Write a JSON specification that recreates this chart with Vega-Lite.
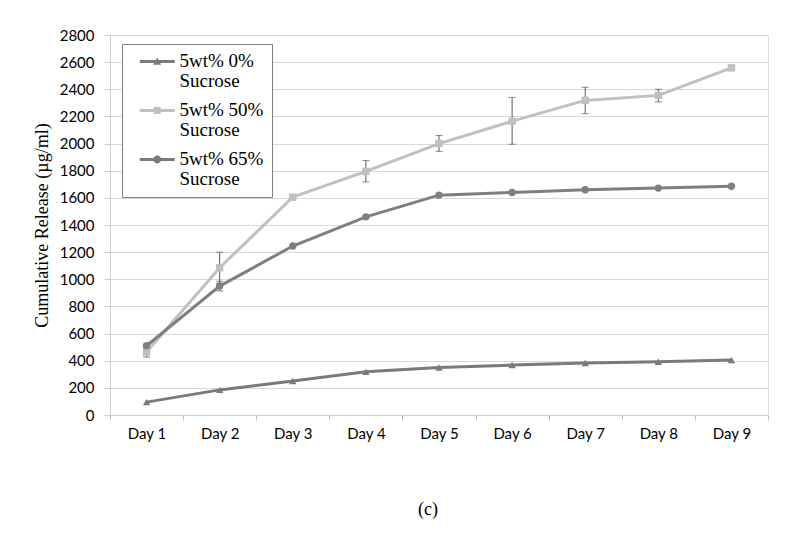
{
  "$schema": "https://vega.github.io/schema/vega-lite/v6.json",
  "autosize": {"type": "none"},
  "width": 658,
  "height": 380,
  "padding": {"left": 110, "top": 35, "right": 32, "bottom": 126},
  "background": "white",
  "title": {
    "text": "(c)",
    "orient": "bottom",
    "offset": 60,
    "dx": -11,
    "font": "Liberation Serif",
    "fontSize": 18,
    "fontWeight": "normal",
    "color": "#000000"
  },
  "data": {
    "values": [
      {"series": "5wt% 0% Sucrose", "day": "Day 1", "value": 95},
      {"series": "5wt% 0% Sucrose", "day": "Day 2", "value": 185},
      {"series": "5wt% 0% Sucrose", "day": "Day 3", "value": 250},
      {"series": "5wt% 0% Sucrose", "day": "Day 4", "value": 318},
      {"series": "5wt% 0% Sucrose", "day": "Day 5", "value": 350},
      {"series": "5wt% 0% Sucrose", "day": "Day 6", "value": 368},
      {"series": "5wt% 0% Sucrose", "day": "Day 7", "value": 383},
      {"series": "5wt% 0% Sucrose", "day": "Day 8", "value": 392},
      {"series": "5wt% 0% Sucrose", "day": "Day 9", "value": 405},
      {"series": "5wt% 50% Sucrose", "day": "Day 1", "value": 464, "lo": 427, "hi": 500},
      {"series": "5wt% 50% Sucrose", "day": "Day 2", "value": 1085, "lo": 970, "hi": 1200},
      {"series": "5wt% 50% Sucrose", "day": "Day 3", "value": 1605},
      {"series": "5wt% 50% Sucrose", "day": "Day 4", "value": 1795, "lo": 1718, "hi": 1875},
      {"series": "5wt% 50% Sucrose", "day": "Day 5", "value": 2000, "lo": 1943, "hi": 2060},
      {"series": "5wt% 50% Sucrose", "day": "Day 6", "value": 2165, "lo": 1995, "hi": 2340},
      {"series": "5wt% 50% Sucrose", "day": "Day 7", "value": 2318, "lo": 2220, "hi": 2415},
      {"series": "5wt% 50% Sucrose", "day": "Day 8", "value": 2355, "lo": 2308, "hi": 2400},
      {"series": "5wt% 50% Sucrose", "day": "Day 9", "value": 2558},
      {"series": "5wt% 65% Sucrose", "day": "Day 1", "value": 510},
      {"series": "5wt% 65% Sucrose", "day": "Day 2", "value": 950, "lo": 914, "hi": 986},
      {"series": "5wt% 65% Sucrose", "day": "Day 3", "value": 1245},
      {"series": "5wt% 65% Sucrose", "day": "Day 4", "value": 1460},
      {"series": "5wt% 65% Sucrose", "day": "Day 5", "value": 1620},
      {"series": "5wt% 65% Sucrose", "day": "Day 6", "value": 1640},
      {"series": "5wt% 65% Sucrose", "day": "Day 7", "value": 1660},
      {"series": "5wt% 65% Sucrose", "day": "Day 8", "value": 1672},
      {"series": "5wt% 65% Sucrose", "day": "Day 9", "value": 1685}
    ]
  },
  "resolve": {"legend": {"shape": "independent", "color": "independent"}},
  "encoding": {
    "x": {
      "field": "day",
      "type": "nominal",
      "scale": {"type": "band", "paddingInner": 0, "paddingOuter": 0},
      "axis": {
        "title": null,
        "labelAngle": 0,
        "labelFont": "Lato",
        "labelFontSize": 15,
        "labelColor": "#000000",
        "labelPadding": 6,
        "tickBand": "extent",
        "tickSize": 5,
        "tickColor": "#bfbfbf",
        "domainColor": "#d0d0d0",
        "grid": false
      }
    },
    "y": {
      "field": "value",
      "type": "quantitative",
      "scale": {"domain": [0, 2800], "nice": false},
      "axis": {
        "title": "Cumulative Release (µg/ml)",
        "titleFont": "Liberation Serif",
        "titleFontSize": 18,
        "titleFontWeight": "normal",
        "titleColor": "#000000",
        "titlePadding": 8,
        "format": "d",
        "values": [0, 200, 400, 600, 800, 1000, 1200, 1400, 1600, 1800, 2000, 2200, 2400, 2600, 2800],
        "labelFont": "Lato",
        "labelFontSize": 15,
        "labelColor": "#000000",
        "labelPadding": 10,
        "tickSize": 6,
        "tickColor": "#d0d0d0",
        "domainColor": "#d0d0d0",
        "gridColor": "#d9d9d9",
        "gridWidth": 1
      }
    }
  },
  "layer": [
    {
      "mark": {"type": "rule", "color": "#595959", "strokeWidth": 1},
      "transform": [{"filter": "isValid(datum.lo)"}],
      "encoding": {
        "y": {"field": "lo", "type": "quantitative"},
        "y2": {"field": "hi"}
      }
    },
    {
      "mark": {"type": "tick", "color": "#595959", "size": 7, "thickness": 1},
      "transform": [{"filter": "isValid(datum.lo)"}],
      "encoding": {"y": {"field": "lo", "type": "quantitative"}}
    },
    {
      "mark": {"type": "tick", "color": "#595959", "size": 7, "thickness": 1},
      "transform": [{"filter": "isValid(datum.hi)"}],
      "encoding": {"y": {"field": "hi", "type": "quantitative"}}
    },
    {
      "mark": {"type": "line", "strokeWidth": 3},
      "encoding": {
        "color": {
          "field": "series",
          "type": "nominal",
          "scale": {"domain": ["5wt% 0% Sucrose", "5wt% 50% Sucrose", "5wt% 65% Sucrose"], "range": ["#7a7a7a", "#c0c0c0", "#7f7f7f"]},
          "legend": {
            "title": null,
            "orient": "none",
            "legendX": 12,
            "legendY": 9,
            "fillColor": "white",
            "strokeColor": "#7f7f7f",
            "padding": 8,
            "labelFont": "Liberation Serif",
            "labelFontSize": 19,
            "labelColor": "#000000",
            "labelExpr": "split(replace(datum.label, '% S', '%|S'), '|')",
            "labelLimit": 200,
            "labelBaseline": "top",
            "labelOffset": 30.5,
            "rowPadding": 9,
            "symbolSize": 306,
            "symbolStrokeWidth": 0,
            "symbolOpacity": 1,
            "symbolType": "circle",
            "encode": {
              "labels": {"update": {"lineHeight": {"value": 20}, "dy": {"value": -10}}},
              "symbols": {
                "update": {
                  "shape": {"signal": "datum.value === '5wt% 0% Sucrose' ? 'M0.03,-0.17H4.03V0.17H0.03Z M1.58,0.38L2.03,-0.45L2.48,0.38Z' : datum.value === '5wt% 50% Sucrose' ? 'M0.03,-0.17H4.03V0.17H0.03Z M1.63,-0.4H2.43V0.4H1.63Z' : 'M0.03,-0.17H4.03V0.17H0.03Z M1.58,0A0.45,0.45 0 1,1 2.48,0A0.45,0.45 0 1,1 1.58,0Z'"},
                  "fill": {"signal": "datum.value === '5wt% 50% Sucrose' ? '#c0c0c0' : '#7a7a7a'"},
                  "stroke": {"value": "transparent"},
                  "opacity": {"value": 1}
                }
              }
            }
          }
        }
      }
    },
    {
      "mark": {"type": "point", "filled": true, "opacity": 1, "size": 55},
      "encoding": {
        "color": {
          "field": "series",
          "type": "nominal",
          "legend": null,
          "scale": {"domain": ["5wt% 0% Sucrose", "5wt% 50% Sucrose", "5wt% 65% Sucrose"], "range": ["#7a7a7a", "#c0c0c0", "#7f7f7f"]}
        },
        "shape": {"field": "series", "type": "nominal", "legend": null,
          "scale": {"domain": ["5wt% 0% Sucrose", "5wt% 50% Sucrose", "5wt% 65% Sucrose"], "range": ["triangle-up", "square", "circle"]}}
      }
    }
  ]
}
